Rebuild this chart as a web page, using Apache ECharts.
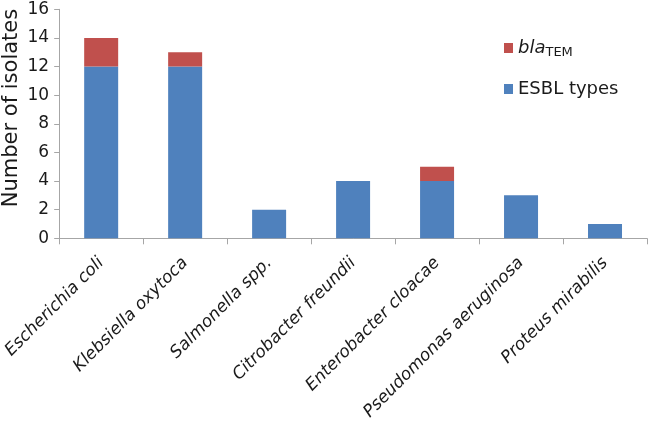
<!DOCTYPE html>
<html>
<head>
<meta charset="utf-8">
<script src="https://cdn.jsdelivr.net/npm/echarts@6/dist/echarts.min.js"></script>
<style>
html,body{margin:0;padding:0;background:#fff;}
#chart{width:652px;height:423px;}
</style>
</head>
<body>
<div id="chart"></div>
<script>
const categories = ['Escherichia coli','Klebsiella oxytoca','Salmonella spp.','Citrobacter freundii','Enterobacter cloacae','Pseudomonas aeruginosa','Proteus mirabilis'];
const esblTypes = [12, 12, 2, 4, 4, 3, 1];
const blaTEM = [2, 1, 0, 0, 1, 0, 0];
const yTicks = [0, 2, 4, 6, 8, 10, 12, 14, 16];

const FONT = 'DejaVu Sans';
const chart = echarts.init(document.getElementById('chart'), null, {renderer: 'canvas'});
chart.setOption({
  animation: false,
  backgroundColor: '#ffffff',
  grid: {left: 57.5, right: 5, top: 9.3, bottom: 184.7, containLabel: false},
  legend: {
    orient: 'vertical',
    left: 504,
    top: 37,
    padding: 0,
    itemWidth: 9,
    itemHeight: 10,
    itemGap: 19,
    icon: 'rect',
    data: ['blaTEM', 'ESBL types'],
    textStyle: {fontFamily: FONT, fontSize: 18, color: '#1a1a1a', lineHeight: 22,
      rich: {
        a: {fontFamily: FONT, fontSize: 18, fontStyle: 'italic', color: '#1a1a1a', lineHeight: 22},
        b: {fontFamily: FONT, fontSize: 13, color: '#1a1a1a', lineHeight: 11, verticalAlign: 'bottom'}
      }
    },
    formatter: function (name) {
      if (name === 'blaTEM') return '{a|bla}{b|TEM}';
      return name;
    }
  },
  xAxis: {
    type: 'category',
    data: categories,
    boundaryGap: true,
    axisLine: {show: true, lineStyle: {color: '#a6a6a6', width: 1}},
    axisTick: {show: true, length: 6, alignWithLabel: false, lineStyle: {color: '#a6a6a6'}},
    axisLabel: {
      rotate: 45, interval: 0, margin: 22,
      fontFamily: FONT, fontSize: 17, fontStyle: 'italic', color: '#1a1a1a'
    },
    splitLine: {show: false}
  },
  yAxis: {
    type: 'value',
    min: yTicks[0],
    max: yTicks[yTicks.length - 1],
    interval: 2,
    axisLine: {show: true, lineStyle: {color: '#a6a6a6', width: 1}},
    axisTick: {show: true, length: 5, lineStyle: {color: '#a6a6a6'}},
    axisLabel: {margin: 10, fontFamily: FONT, fontSize: 17, color: '#1a1a1a'},
    splitLine: {show: false}
  },
  graphic: [{
    type: 'text',
    x: 12,
    y: 108,
    rotation: Math.PI / 2,
    style: {
      text: 'Number of isolates',
      fontFamily: FONT, fontSize: 21, fill: '#1a1a1a',
      align: 'center', verticalAlign: 'middle'
    }
  }],
  series: [
    {
      name: 'ESBL types', type: 'bar', stack: 'total', data: esblTypes,
      barWidth: 34,
      itemStyle: {color: '#4f81bd'}
    },
    {
      name: 'blaTEM', type: 'bar', stack: 'total', data: blaTEM,
      barWidth: 34,
      itemStyle: {color: '#c0504d'}
    }
  ]
});
</script>
</body>
</html>
